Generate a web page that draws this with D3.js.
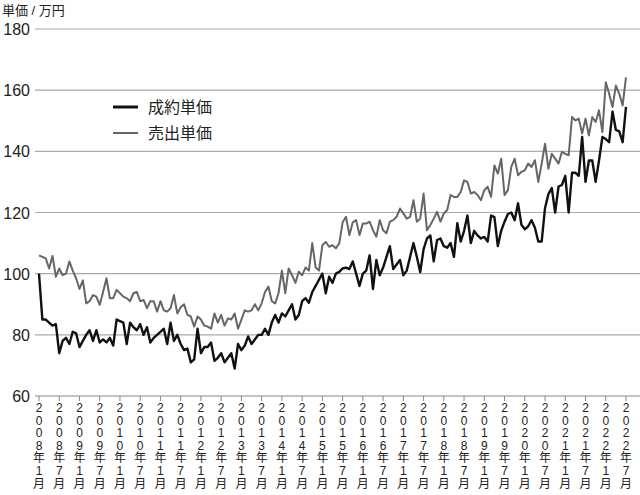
<!DOCTYPE html>
<html><head><meta charset="utf-8">
<script src="https://cdn.jsdelivr.net/npm/d3@7"></script>
<style>body{margin:0;background:#fff}svg{display:block}text{font-family:"Liberation Sans","Noto Sans CJK JP",sans-serif}</style>
</head><body><svg id="c" width="640" height="495"></svg>
<script>
// 2008年1月 から月次
const startYear = 2008;
const contract = [
  100,85,85,84,83,83.5,74,78,79,77,81,80.5,
  76,78,80,81.5,78,81.5,77.5,78.5,77.5,79,76.5,85,
  84.5,84,77,84,82.5,81.5,83.5,80,82.5,77.5,79,80,
  81,82,77,84,78,80,77,75,75.5,71,72,82,
  74,76,76,77.5,71.5,72.5,74,71,72.5,74,69,77,
  75,76.5,79.5,77,78.5,80,80,82,80,84,86.5,84,
  87,86,88,90,85,86.5,91,92,90.5,94,96,98,
  100,93.6,99,97,100,100.6,101.7,102,101.5,104,100,96,
  100,101,106,95,104.5,99.5,102,105.5,109,101.5,103,104.5,
  99.5,101,105.5,110,105.5,100.5,108,111.5,112.5,104,111,111.5,
  109,108.5,110,105.5,116.5,110.5,114,119,110,114,112.5,111.5,
  112,110.5,119,118.5,109,114,117,119.5,120,117.5,123,116,
  114.5,115.5,117.5,115,110.5,110.5,121.5,126,128,120,128.5,129,
  132,120,133,133,132,144.7,130,137,137,130,137,144.7,
  144,143,153,147,146.5,143,154.5
];
const listing = [
  106,105.5,105,101.7,105.8,99,101.7,99.5,100,104,101,98.5,
  95,97.8,90.3,91,93,92.5,89.8,94,98.5,92,92,94.7,
  93.6,92.5,92,91,93.6,94,91,91.4,88.7,91,91,87.6,
  91,88,87.6,88.7,93,87,89,90,86.5,86,82.7,86,
  85,83,82.7,82,87,84,86.5,83,85.4,85,87,82,
  85,88,87.6,88,90,88,90.3,94,95.8,91,90.3,93.6,
  101,93.6,101.7,99.5,97,100.6,99.5,102,101,110,102,101,
  109.3,110.4,108.8,109.3,108.3,109.9,116.8,118.6,112.6,116.8,117.5,112.6,
  116.4,116.4,117,114.2,112.1,117.5,114.2,113.2,117,117.5,118.6,121.3,
  119.7,118,118.6,124,117,118,126.2,114.2,115.9,118,120.2,117,
  119.7,120.8,125.7,125.1,125.1,126.7,130.5,130,126.2,126.7,125.7,124,
  127.3,128.4,125.1,135.4,132.7,137.6,125.7,127.3,134.9,137.6,132.2,133.3,
  133.8,136,134.9,137.1,130,136,142.5,134.3,139.2,137.6,136,139.8,
  139.2,138.7,151.2,150.1,150.7,145.8,150.7,145.2,151.2,149.6,153.4,146.3,
  162.6,158.8,154.5,161.5,158.8,155,164.2
];
const yTicks = [60,80,100,120,140,160,180];
const seriesNames = ["成約単価","売出単価"];
const seriesColors = ["#111","#666"];

const svg = d3.select("#c");
const x = d3.scaleLinear().domain([0, 174]).range([39, 626]);
const y = d3.scaleLinear().domain([60, 180]).range([396, 29]);

// grid
svg.append("g").selectAll("line").data(yTicks.slice(1)).join("line")
  .attr("x1", 35).attr("x2", 640).attr("y1", d => y(d)).attr("y2", d => y(d))
  .attr("stroke", "#aaa").attr("stroke-width", 1.2);
svg.append("line").attr("x1", 35).attr("x2", 640).attr("y1", y(60)).attr("y2", y(60))
  .attr("stroke", "#888");
svg.append("g").selectAll("text").data(yTicks).join("text")
  .attr("x", 30).attr("y", d => y(d) + 6).attr("text-anchor", "end")
  .attr("font-size", 16).attr("fill", "#222").text(d => d);
svg.append("text").attr("x", 2).attr("y", 15).attr("font-size", 13).attr("fill", "#222").text("単価 / 万円");

// x ticks every 6 months
const xt = d3.range(0, 175, 6);
svg.append("g").selectAll("line").data(xt).join("line")
  .attr("x1", d => x(d)).attr("x2", d => x(d)).attr("y1", y(60)).attr("y2", y(60) + 5)
  .attr("stroke", "#888");
const lab = svg.append("g").selectAll("g").data(xt).join("g")
  .attr("transform", d => `translate(${x(d)},0)`);
lab.each(function(d) {
  const yr = startYear + Math.floor(d / 12), mo = d % 12 + 1;
  const chars = [...String(yr), "年", String(mo), "月"];
  d3.select(this).selectAll("text").data(chars).join("text")
    .attr("x", 0).attr("y", (c, i) => 412 + i * 12.6).attr("text-anchor", "middle")
    .attr("font-size", 12).attr("fill", "#222").text(c => c);
});

const line = d3.line().x((d, i) => x(i)).y(d => y(d));
[listing, contract].forEach((s, k) => {
  svg.append("path").datum(s).attr("d", line).attr("fill", "none")
    .attr("stroke", k ? seriesColors[0] : seriesColors[1]).attr("stroke-width", k ? 2.4 : 2)
    .attr("stroke-linejoin", "round");
});

// legend
const lg = svg.append("g").selectAll("g").data(seriesNames).join("g")
  .attr("transform", (d, i) => `translate(113,${107 + i * 26})`);
lg.append("line").attr("x1", 0).attr("x2", 25).attr("stroke", (d, i) => seriesColors[i])
  .attr("stroke-width", (d, i) => i ? 2 : 3);
lg.append("text").attr("x", 35).attr("y", 6).attr("font-size", 16).attr("fill", "#222").text(d => d);
</script></body></html>
